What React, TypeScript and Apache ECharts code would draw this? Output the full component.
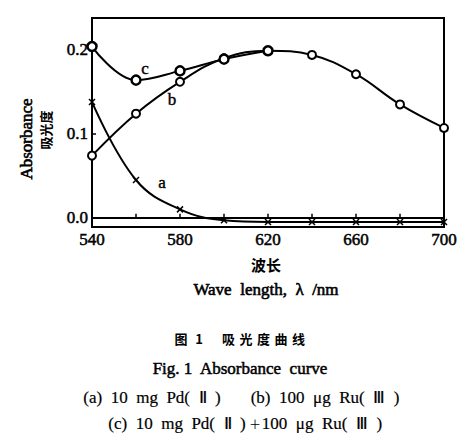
import React, { useEffect, useRef } from "react";
import * as echarts from "echarts";

const wavelengths = [540, 560, 580, 600, 620, 640, 660, 680, 700];
const seriesA = [0.138, 0.045, 0.01, -0.003, -0.005, -0.005, -0.005, -0.005, -0.005];
const seriesB = [0.074, 0.124, 0.162, 0.19, 0.199, 0.194, 0.171, 0.135, 0.107];
const seriesC = [0.204, 0.164, 0.175, 0.189, 0.199];
const xLabels = [540, 580, 620, 660, 700];
const yLabels = [0, 0.1, 0.2];
const xTicks = [560, 580, 600, 620, 640, 660, 680];

const SERIF = '"Liberation Serif", "Times New Roman", serif';
const CJK = '"Noto Sans CJK SC", sans-serif';

const txt = (x: number, y: number, text: string, size: number, family: string, extra: any = {}) => ({
  type: "text",
  x,
  y,
  rotation: extra.rotation || 0,
  style: {
    text,
    font: `${extra.weight || "normal"} ${size}px ${family}`,
    fill: "#000",
    stroke: "#000",
    lineWidth: extra.lw ?? 0.4,
    align: "center",
    verticalAlign: "middle",
  },
});

export default function App() {
  const ref = useRef<HTMLDivElement>(null);
  useEffect(() => {
    if (!ref.current) return;
    const chart = echarts.init(ref.current, null, { renderer: "svg" });
    const pts = (ys: number[]) => ys.map((y, i) => [wavelengths[i], y]);
    const lineStyle = { color: "#000", width: 2 };
    const labelStyle = { color: "#000", fontFamily: SERIF, fontSize: 17, textBorderColor: "#000", textBorderWidth: 0.5 };
    const captionChars = "吸光度曲线".split("");
    chart.setOption({
      animation: false,
      backgroundColor: "#fff",
      grid: { left: 92, right: 27, top: 18, bottom: 217, show: true, borderColor: "#000", borderWidth: 2, backgroundColor: "transparent" },
      xAxis: {
        type: "value",
        min: 540,
        max: 700,
        axisLine: { show: true, lineStyle: { color: "#000", width: 2 } },
        axisTick: { show: true, inside: true, length: 4, customValues: xTicks, lineStyle: { color: "#000", width: 1.5 } },
        axisLabel: { customValues: xLabels, ...labelStyle, margin: 4 },
        splitLine: { show: false },
      },
      yAxis: {
        type: "value",
        min: -0.011,
        max: 0.238,
        axisLine: { show: true, lineStyle: { color: "#000", width: 2 } },
        axisTick: { show: true, inside: true, length: 4, customValues: [0.1, 0.2], lineStyle: { color: "#000", width: 1.5 } },
        axisLabel: { customValues: yLabels, formatter: (v: number) => v.toFixed(1), ...labelStyle, margin: 4 },
        splitLine: { show: false },
      },
      series: [
        {
          type: "line",
          smooth: 0.4,
          data: pts(seriesA),
          lineStyle,
          symbol: "path://M0,0L10,10M10,0L0,10",
          symbolSize: 6,
          itemStyle: { color: "none", borderColor: "#000", borderWidth: 1.5 },
        },
        {
          type: "line",
          smooth: 0.4,
          data: pts(seriesB),
          lineStyle,
          symbol: "circle",
          symbolSize: 8,
          itemStyle: { color: "#fff", borderColor: "#000", borderWidth: 2 },
        },
        {
          type: "line",
          smooth: 0.4,
          data: pts(seriesC),
          lineStyle,
          symbol: "circle",
          symbolSize: 9,
          itemStyle: { color: "#fff", borderColor: "#000", borderWidth: 2.5 },
        },
      ],
      graphic: [
        txt(145, 68, "c", 17, SERIF),
        txt(172, 99, "b", 17, SERIF),
        txt(162, 182, "a", 17, SERIF),
        txt(26, 139, "Absorbance", 17, SERIF, { rotation: Math.PI / 2, lw: 0.6 }),
        txt(45, 130, "吸光度", 13, CJK, { rotation: Math.PI / 2, weight: "bold", lw: 0 }),
        txt(266, 264, "波长", 15, CJK, { weight: "bold", lw: 0 }),
        txt(266, 289, "Wave  length,  λ  /nm", 17, SERIF, { lw: 0.6 }),
        txt(181, 338, "图", 13, CJK, { weight: "bold", lw: 0 }),
        txt(199, 338, "1", 13, CJK, { weight: "bold", lw: 0 }),
        ...captionChars.map((c, i) => txt(228.5 + i * 17.5, 338, c, 13, CJK, { weight: "bold", lw: 0 })),
        txt(240, 368, "Fig. 1  Absorbance  curve", 17, SERIF, { lw: 0.5 }),
        txt(152, 397, "(a)  10  mg  Pd(  Ⅱ  )", 17, SERIF, { lw: 0.2 }),
        txt(325, 397, "(b)  100  μg  Ru(  Ⅲ  )", 17, SERIF, { lw: 0.2 }),
        txt(177, 423, "(c)  10  mg  Pd(  Ⅱ  )", 17, SERIF, { lw: 0.2 }),
        txt(255, 423, "＋", 12, CJK, { lw: 0 }),
        txt(322, 423, "100  μg  Ru(  Ⅲ  )", 17, SERIF, { lw: 0.2 }),
      ],
    });
    return () => chart.dispose();
  }, []);
  return <div ref={ref} style={{ position: "fixed", left: 0, top: 0, width: 471, height: 444 }} />;
}
